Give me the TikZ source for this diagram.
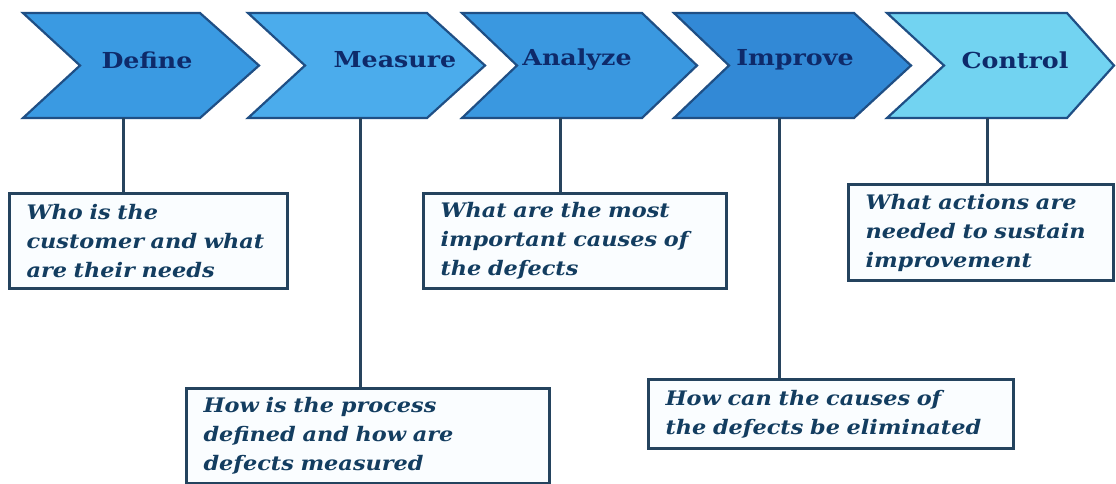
\documentclass[tikz,border=0pt]{standalone}
\usepackage{fontspec}
\newfontfamily\labfont[FakeStretch=1.15]{DejaVu Serif}
\newfontfamily\qfont[FakeStretch=1.12]{DejaVu Serif}
\definecolor{chevline}{HTML}{1F4F85}
\definecolor{defcol}{HTML}{3A9AE2}
\definecolor{meacol}{HTML}{4BACEC}
\definecolor{anacol}{HTML}{3A98E0}
\definecolor{impcol}{HTML}{3289D6}
\definecolor{concol}{HTML}{72D3F1}
\definecolor{labcol}{HTML}{0E2A6A}
\definecolor{boxline}{HTML}{24435E}
\definecolor{boxfill}{HTML}{FAFDFF}
\definecolor{qcol}{HTML}{133D60}
\definecolor{connline}{HTML}{28445E}
\begin{document}
\begin{tikzpicture}[x=1pt,y=-1pt,
  chev/.style={draw=chevline, line width=2.2pt, line join=miter},
  lab/.style={font=\labfont\bfseries\fontsize{22}{26}\selectfont, text=labcol, inner sep=0pt},
  qbox/.style={draw=boxline, line width=3pt, fill=boxfill,
    font=\qfont\bfseries\itshape\fontsize{20}{29}\selectfont, text=qcol,
    align=left, inner xsep=17pt, inner ysep=0pt, anchor=north west},
  conn/.style={draw=connline, line width=3pt}]
\useasboundingbox[fill=white] (0,0) rectangle (1116,483);

% chevrons
\path[chev, fill=defcol] (23,13) -- (200,13) -- (259,65.5) -- (200,118) -- (23,118) -- (80,65.5) -- cycle;
\path[chev, fill=meacol] (248,13) -- (427,13) -- (485,65.5) -- (427,118) -- (248,118) -- (305,65.5) -- cycle;
\path[chev, fill=anacol] (462,13) -- (642,13) -- (697,65.5) -- (642,118) -- (462,118) -- (517,65.5) -- cycle;
\path[chev, fill=impcol] (674,13) -- (854,13) -- (911,65.5) -- (854,118) -- (674,118) -- (729,65.5) -- cycle;
\path[chev, fill=concol] (887,13) -- (1067,13) -- (1114,65.5) -- (1067,118) -- (887,118) -- (944,65.5) -- cycle;

% labels
\node[lab] (ldef) at (147,60) {Define};
\node[lab] (lmea) at (395,60) {Measure};
\node[lab] (lana) at (577,60) {Analyze};
\node[lab] (limp) at (795,60) {Improve};
\node[lab] (lcon) at (1015,60) {Control};

% connector starts
\coordinate (cdef) at (123,118);
\coordinate (cmea) at (360,118);
\coordinate (cana) at (560,118);
\coordinate (cimp) at (779,118);
\coordinate (ccon) at (987,118);

% question boxes
\node[qbox, text width=244pt, minimum height=95pt] (qdef) at (8,192)
  {\mbox{Who is the}\\\mbox{customer and what}\\\mbox{are their needs}};
\node[qbox, text width=329pt, minimum height=95pt] (qmea) at (185,387)
  {\mbox{How is the process}\\\mbox{defined and how are}\\\mbox{defects measured}};
\node[qbox, text width=269pt, minimum height=95pt] (qana) at (422,192)
  {\mbox{What are the most}\\\mbox{important causes of}\\\mbox{the defects}};
\node[qbox, text width=331pt, minimum height=69pt] (qimp) at (647,378)
  {\mbox{How can the causes of}\\\mbox{the defects be eliminated}};
\node[qbox, text width=231pt, minimum height=96pt] (qcon) at (847,183)
  {\mbox{What actions are}\\\mbox{needed to sustain}\\\mbox{improvement}};

% connectors
\draw[conn] (cdef) -- (cdef |- qdef.north);
\draw[conn] (cmea) -- (cmea |- qmea.north);
\draw[conn] (cana) -- (cana |- qana.north);
\draw[conn] (cimp) -- (cimp |- qimp.north);
\draw[conn] (ccon) -- (ccon |- qcon.north);
\end{tikzpicture}
\end{document}
